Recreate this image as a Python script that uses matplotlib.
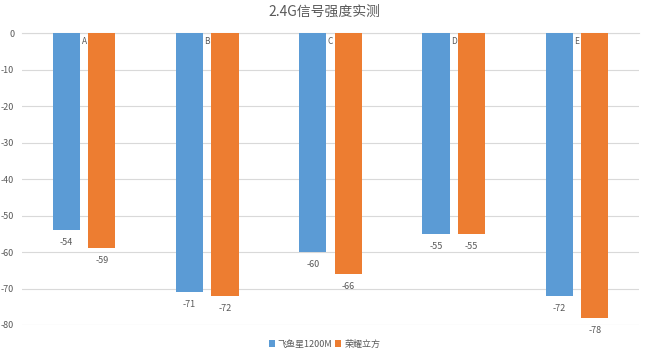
import numpy as np
import matplotlib
matplotlib.use("Agg")
import matplotlib.pyplot as plt

plt.rcParams["font.family"] = ["Noto Sans CJK SC", "DejaVu Sans"]

categories = ["A", "B", "C", "D", "E"]
series_names = ["飞鱼星1200M", "荣耀立方"]
feiyuxing = [-54, -71, -60, -55, -72]
rongyao = [-59, -72, -66, -55, -78]
yticks = [0, -10, -20, -30, -40, -50, -60, -70, -80]
title = "2.4G信号强度实测"

blue = "#5B9BD5"
orange = "#ED7D31"
text_gray = "#595959"

fig = plt.figure(figsize=(6.49, 3.54), dpi=100)
ax = fig.add_axes([22.5 / 649, 29 / 354, 616 / 649, 292 / 354])

x = np.arange(len(categories))
w = 0.22
off = 0.144
ax.bar(x - off, feiyuxing, w, color=blue, label=series_names[0], zorder=3)
ax.bar(x + off, rongyao, w, color=orange, label=series_names[1], zorder=3)

for xi, v in zip(x - off, feiyuxing):
    ax.text(xi, v - 2.2, str(v), ha="center", va="top", fontsize=6.5, color=text_gray)
for xi, v in zip(x + off, rongyao):
    ax.text(xi, v - 2.2, str(v), ha="center", va="top", fontsize=6.5, color=text_gray)
for xi, c in zip(x, categories):
    ax.text(xi, -1.2, c, ha="center", va="top", fontsize=6, color=text_gray)

ax.set_xlim(-0.5, len(categories) - 0.5)
ax.set_ylim(-80, 0)
ax.set_yticks(yticks)
ax.set_yticklabels([str(t) for t in yticks])
ax.set_xticks([])
ax.tick_params(axis="y", length=0, labelsize=6.5, labelcolor=text_gray, pad=6)
ax.grid(axis="y", color="#D9D9D9", linewidth=0.8, zorder=0)
for s in ["left", "right", "bottom"]:
    ax.spines[s].set_visible(False)
ax.spines["top"].set_color("#D9D9D9")
ax.spines["top"].set_linewidth(0.8)

fig.text(0.5, 12 / 354 * -1 + 1, title, ha="center", va="center", fontsize=10, color=text_gray)
fig.legend(loc="center", bbox_to_anchor=(0.5, 10 / 354), ncol=2, frameon=False,
           fontsize=6.5, handlelength=0.7, handleheight=0.7, handletextpad=0.3,
           columnspacing=0.3, labelcolor=text_gray)

fig.savefig("out.png", dpi=100)
